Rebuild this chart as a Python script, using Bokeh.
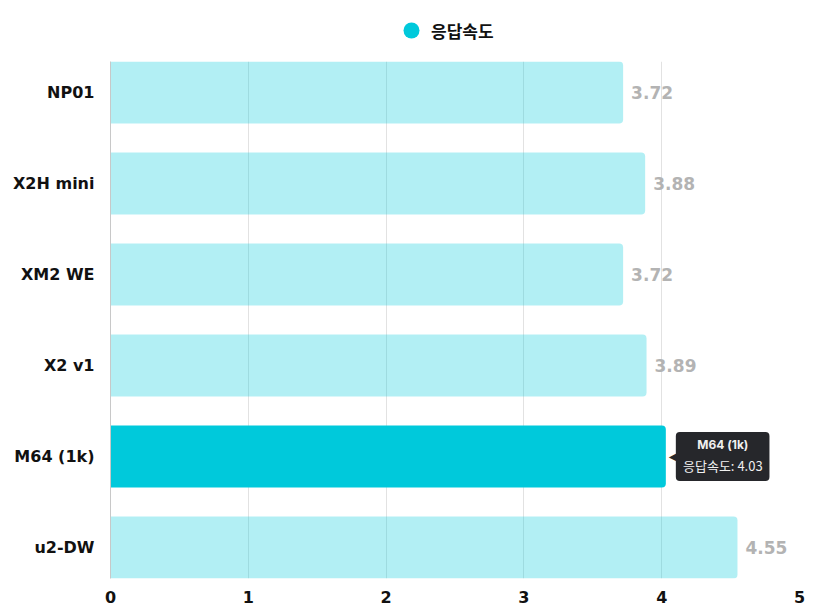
from bokeh.plotting import figure
from bokeh.layouts import column
from bokeh.models import Legend, LegendItem, Label, Range1d, FixedTicker, ColumnDataSource
from bokeh.core.properties import value
from bokeh.embed import file_html
from bokeh.resources import INLINE

categories = ["NP01", "X2H mini", "XM2 WE", "X2 v1", "M64 (1k)", "u2-DW"]
speeds = [3.72, 3.88, 3.72, 3.89, 4.03, 4.55]
x_ticks = [0, 1, 2, 3, 4, 5]
series_name = "응답속도"
highlight = "M64 (1k)"

BAR = "#00c9db"
TIP = "#26272b"
LABEL_FONT = "DejaVu Sans"
n = len(categories)
idx = list(range(n))
hi = categories.index(highlight)

src = ColumnDataSource(dict(
    y=idx,
    value=speeds,
    label=[f"{v:.2f}" for v in speeds],
    alpha=[1.0 if c == highlight else 0.3 for c in categories],
    label_alpha=[0.0 if c == highlight else 1.0 for c in categories],
))

p = figure(frame_width=689, frame_height=517, output_backend="svg", toolbar_location=None,
           x_range=Range1d(0, 5), y_range=Range1d(n - 1 + 0.34, -0.34),
           min_border_left=110, min_border_right=10, min_border_top=0, min_border_bottom=28)
p.outline_line_color = None
p.background_fill_color = "white"

p.hbar(y="y", left=0, right="value", height=0.68, source=src,
       fill_color=BAR, fill_alpha="alpha", line_color=None,
       border_radius=(0, 4, 4, 0))

p.text(x="value", y="y", text="label", source=src, x_offset=8,
       text_baseline="middle", text_align="left",
       text_font=value(LABEL_FONT), text_font_style="bold",
       text_font_size="17px", text_color="#b3b3b3", text_alpha="label_alpha")

# x axis
p.xaxis.ticker = FixedTicker(ticks=x_ticks)
p.xaxis.axis_line_color = None
p.xaxis.major_tick_line_color = None
p.xaxis.minor_tick_line_color = None
p.xaxis.major_label_standoff = 6
p.xaxis.major_label_text_font = LABEL_FONT
p.xaxis.major_label_text_font_style = "bold"
p.xaxis.major_label_text_font_size = "16px"
p.xaxis.major_label_text_color = "#111111"

# y axis
p.yaxis.ticker = FixedTicker(ticks=idx)
p.yaxis.major_label_overrides = {i: c for i, c in enumerate(categories)}
p.yaxis.axis_line_color = "#c8c8c8"
p.yaxis.major_tick_line_color = None
p.yaxis.minor_tick_line_color = None
p.yaxis.major_label_standoff = 10
p.yaxis.major_label_text_font = LABEL_FONT
p.yaxis.major_label_text_font_style = "bold"
p.yaxis.major_label_text_font_size = "16px"
p.yaxis.major_label_text_color = "#111111"

p.xgrid.grid_line_color = "#e2e2e2"
p.xgrid.level = "underlay"
p.ygrid.visible = False

# tooltip for highlighted bar
hv = speeds[hi]
tip_text = f"{series_name}: {hv:.2f}"
bg = Label(x=hv, y=hi, x_offset=10, text=tip_text,
           text_align="left", text_baseline="middle",
           text_font="Noto Sans CJK KR", text_font_size="13px", text_color=TIP,
           background_fill_color=TIP, background_fill_alpha=1.0,
           border_radius=4, padding=(7, 15))
p.add_layout(bg)
arrow = Label(x=hv, y=hi, x_offset=3, text="◀", text_align="left", text_baseline="middle",
              text_font="DejaVu Sans", text_font_size="10px", text_color=TIP)
p.add_layout(arrow)
t1 = Label(x=hv, y=hi, x_offset=57, y_offset=12, text=highlight, text_align="center",
           text_baseline="middle", text_font="Inter", text_font_style="bold",
           text_font_size="12px", text_color="#f0f0f0")
t2 = Label(x=hv, y=hi, x_offset=57, y_offset=-9, text=tip_text, text_align="center",
           text_baseline="middle", text_font="Noto Sans CJK KR",
           text_font_size="13px", text_color="#f0f0f0")
p.add_layout(t1)
p.add_layout(t2)

# legend strip on top
lg = figure(width=809, height=61, output_backend="svg", toolbar_location=None,
            x_range=Range1d(0, 1), y_range=Range1d(0, 1),
            min_border=0, x_axis_type=None, y_axis_type=None)
lg.outline_line_color = None
lg.xgrid.visible = False
lg.ygrid.visible = False
r_leg = lg.scatter(x=[float("nan")], y=[float("nan")], marker="circle", size=16,
                   fill_color=BAR, line_color=None)
legend = Legend(items=[LegendItem(label=series_name, renderers=[r_leg])],
                orientation="horizontal", location=(281, 11),
                label_text_font="Noto Sans CJK KR", label_text_font_style="bold",
                label_text_font_size="17px", label_text_color="#111111",
                border_line_color=None, background_fill_alpha=0.0,
                glyph_width=40, glyph_height=40, label_height=40, label_standoff=0,
                padding=0, margin=0)
lg.add_layout(legend, "center")

layout = column(lg, p, spacing=0)
open("out.html", "w").write(file_html(layout, INLINE))
